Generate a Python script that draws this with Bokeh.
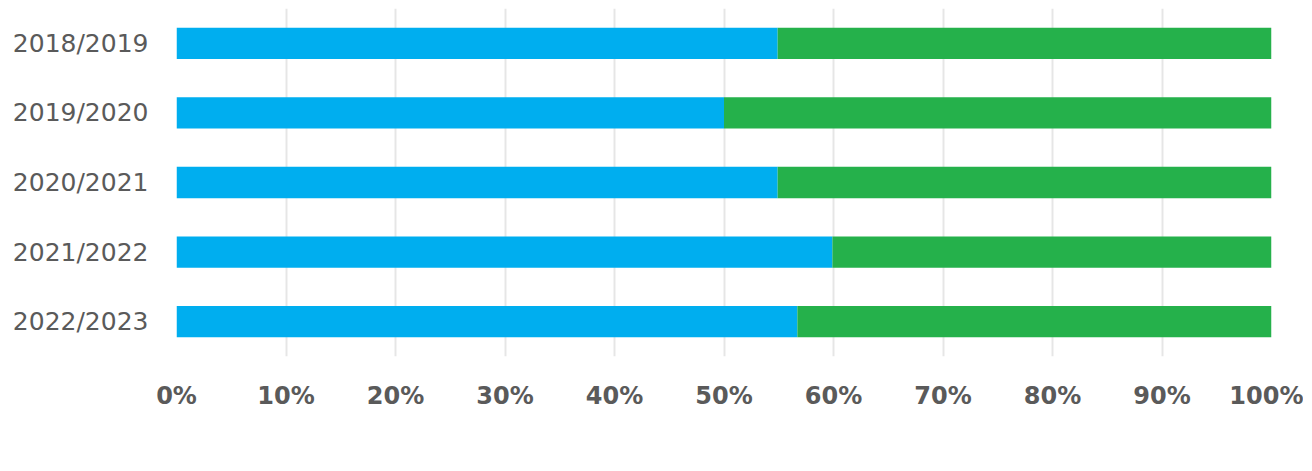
from bokeh.plotting import figure
from bokeh.models import (Legend, LegendItem, FixedTicker, Range1d, FactorRange,
                          PrintfTickFormatter, ColumnDataSource)
from bokeh.embed import file_html
from bokeh.resources import INLINE

seasons = ["2018/2019", "2019/2020", "2020/2021", "2021/2022", "2022/2023"]
processing = [54.9, 50.0, 54.9, 59.9, 56.7]
fresh_market = [45.1, 50.0, 45.1, 40.1, 43.3]
x_ticks = [0, 10, 20, 30, 40, 50, 60, 70, 80, 90, 100]

source = ColumnDataSource(dict(season=seasons, Processing=processing, Fresh=fresh_market))

FONT = "DejaVu Sans"
GREY = "#5a5a5a"

p = figure(
    y_range=FactorRange(*reversed(seasons), range_padding=0),
    x_range=Range1d(0, 100),
    width=1304, height=470,
    frame_width=1095, frame_height=348,
    output_backend="svg", toolbar_location=None,
    min_border_left=176, min_border_right=32, min_border_top=8, min_border_bottom=0,
)

rs = p.hbar_stack(["Processing", "Fresh"], y="season", height=0.45, source=source,
                  color=["#00aeef", "#25b14b"], line_color=None)

p.outline_line_color = None
p.background_fill_color = "white"
p.border_fill_color = "white"

p.ygrid.grid_line_color = None
p.xgrid.grid_line_color = "#e6e6e6"
p.xgrid.grid_line_width = 2
p.xaxis.ticker = FixedTicker(ticks=x_ticks)
p.xaxis.formatter = PrintfTickFormatter(format="%d%%")

for ax in (p.xaxis, p.yaxis):
    ax.axis_line_color = None
    ax.major_tick_line_color = None
    ax.minor_tick_line_color = None
    ax.major_label_text_color = GREY
    ax.major_label_text_font = FONT

p.xaxis.major_label_text_font_size = "24px"
p.xaxis.major_label_text_font_style = "bold"
p.xaxis.major_label_standoff = 19
p.yaxis.major_label_text_font_size = "25px"
p.yaxis.major_label_standoff = 22

legend = Legend(
    items=[LegendItem(label="Processing", renderers=[rs[0]]),
           LegendItem(label="Fresh market", renderers=[rs[1]])],
    orientation="horizontal", location=(298, 2),
    label_text_font=FONT, label_text_font_size="21px", label_text_color=GREY,
    label_height=26,
    glyph_width=30, glyph_height=26, spacing=7, label_standoff=9,
    padding=0, margin=0, border_line_color=None, background_fill_alpha=0,
)
p.add_layout(legend, "below")

open("out.html", "w").write(file_html(p, INLINE))
